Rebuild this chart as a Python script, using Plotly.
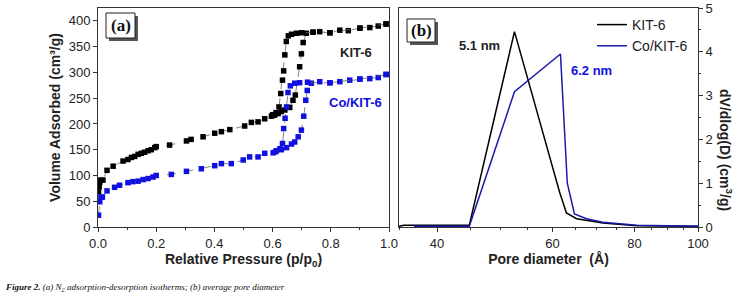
import numpy as np
import plotly.graph_objects as go

# ---------------- data: panel (a) isotherms ----------------
kit_ads_p = [0.002, 0.004, 0.006, 0.009, 0.017, 0.031, 0.052, 0.086, 0.103, 0.115, 0.126, 0.138,
             0.149, 0.160, 0.172, 0.183, 0.195, 0.200, 0.246, 0.304, 0.320, 0.361, 0.401, 0.424,
             0.453, 0.504, 0.527, 0.550, 0.573, 0.596, 0.607, 0.619, 0.630, 0.642, 0.659, 0.670,
             0.678, 0.693, 0.699, 0.705, 0.716, 0.739, 0.762, 0.797, 0.831, 0.860, 0.900, 0.934,
             0.963, 0.990]
kit_ads_v = [68, 78, 87, 91, 91, 110, 118, 128, 131, 135, 137, 141,
             143, 145, 148, 150, 154, 156, 159, 167, 170, 175, 182, 185,
             189, 196, 203, 204, 210, 215, 217, 220, 224, 227, 232, 246,
             256, 311, 336, 358, 376, 378, 379, 377, 382, 381, 386, 387,
             390, 394]
kit_des_p = [0.990, 0.900, 0.797, 0.739, 0.700, 0.682, 0.665, 0.654, 0.647, 0.642, 0.638,
             0.634, 0.628, 0.622, 0.612, 0.600]
kit_des_v = [394, 386, 377, 378, 377, 376, 374, 371, 360, 334, 303,
             285, 259, 233, 222, 218]

co_ads_p = [0.002, 0.006, 0.010, 0.015, 0.031, 0.057, 0.074, 0.103, 0.120, 0.138, 0.155, 0.172,
            0.189, 0.200, 0.252, 0.304, 0.355, 0.401, 0.424, 0.458, 0.499, 0.521, 0.550, 0.573,
            0.602, 0.613, 0.630, 0.648, 0.665, 0.676, 0.688, 0.699, 0.707, 0.714, 0.719, 0.733,
            0.762, 0.797, 0.831, 0.865, 0.900, 0.934, 0.963, 0.990]
co_ads_v = [23, 49, 58, 58, 70, 77, 81, 86, 88, 89, 92, 94,
            97, 100, 102, 108, 113, 119, 123, 123, 130, 136, 136, 143,
            144, 148, 150, 154, 161, 165, 175, 188, 215, 246, 265, 279,
            282, 280, 282, 285, 287, 288, 290, 296]
co_des_p = [0.990, 0.900, 0.797, 0.720, 0.693, 0.676, 0.661, 0.653, 0.648, 0.643, 0.638,
            0.634, 0.625, 0.610]
co_des_v = [296, 287, 280, 281, 280, 279, 274, 261, 233, 211, 191,
            162, 152, 146]

# ---------------- data: panel (b) pore size distribution ----------------
kit_d = [35.0, 35.6, 44.8, 52.5, 61.5, 63.0, 65.3, 71.6, 80.7, 100.0]
kit_dv = [0.015, 0.04, 0.04, 4.46, 0.80, 0.32, 0.19, 0.09, 0.03, 0.015]
co_d = [36.9, 44.8, 52.5, 61.7, 63.2, 64.8, 67.6, 71.6, 80.7, 100.0]
co_dv = [0.015, 0.015, 3.09, 3.95, 1.00, 0.30, 0.19, 0.11, 0.04, 0.015]

a_xticks = [0.0, 0.2, 0.4, 0.6, 0.8, 1.0]
a_yticks = [0, 50, 100, 150, 200, 250, 300, 350, 400]
b_xticks = [40, 60, 80, 100]
b_yticks = [0, 1, 2, 3, 4, 5]

W, H = 744, 300
def px(x):
    return x / W
def py(y):
    return 1 - y / H

BLUE = "#1010e0"
BLUE_LINE = "#1a1aa8"
FONT = "Liberation Sans, Arial, sans-serif"
SERIF = "Liberation Serif, Times New Roman, serif"

fig = go.Figure()

def iso(p, v, color, name):
    fig.add_trace(go.Scatter(
        x=p, y=v, mode="lines+markers", name=name, showlegend=False,
        line=dict(color="#666666", width=0.8, dash="dash"),
        marker=dict(symbol="square", size=5.5, color=color),
        xaxis="x", yaxis="y"))

iso(kit_ads_p, kit_ads_v, "black", "KIT-6 ads")
iso(kit_des_p, kit_des_v, "black", "KIT-6 des")
iso(co_ads_p, co_ads_v, BLUE, "Co/KIT-6 ads")
iso(co_des_p, co_des_v, BLUE, "Co/KIT-6 des")

fig.add_trace(go.Scatter(x=kit_d, y=kit_dv, mode="lines", name="KIT-6",
                         line=dict(color="black", width=1.5), xaxis="x2", yaxis="y2"))
fig.add_trace(go.Scatter(x=co_d, y=co_dv, mode="lines", name="Co/KIT-6",
                         line=dict(color=BLUE_LINE, width=1.5), xaxis="x2", yaxis="y2"))

ax_common = dict(showline=True, linecolor="#333333", linewidth=1, mirror=True,
                 ticks="outside", ticklen=4, tickcolor="#333333", showgrid=False,
                 zeroline=False, automargin=False,
                 tickfont=dict(family=FONT, size=13, color="#222222"))

fig.update_layout(
    width=W, height=H, margin=dict(l=0, r=0, t=0, b=0, autoexpand=False),
    paper_bgcolor="white", plot_bgcolor="white",
    font=dict(family=FONT, color="#222222"),
    xaxis=dict(domain=[px(98), px(389)], range=[0, 1.0], tickvals=a_xticks,
               ticktext=[f"{v:.1f}" for v in a_xticks], anchor="y",
               minor=dict(dtick=0.1, ticks="outside", ticklen=2, tickcolor="#333333"),
               title=dict(text="<b>Relative Pressure (p/p<sub>0</sub>)</b>",
                          font=dict(family=FONT, size=14), standoff=0),
               **ax_common),
    yaxis=dict(domain=[py(227), py(8)], range=[0, 425], tickvals=a_yticks, anchor="x",
               title=dict(text="<b>Volume Adsorbed (cm³/g)</b>",
                          font=dict(family=FONT, size=14), standoff=4),
               **ax_common),
    xaxis2=dict(domain=[px(399), px(698)], type="log", range=[np.log10(35), 2],
                tickvals=b_xticks, ticktext=[str(v) for v in b_xticks], anchor="y2",
                minor=dict(tickvals=[35, 45, 50, 55, 65, 70, 75, 85, 90, 95],
                           ticks="outside", ticklen=2, tickcolor="#333333"),
                title=dict(text="<b>Pore diameter  (Å)</b>",
                           font=dict(family=FONT, size=14), standoff=0),
                **ax_common),
    yaxis2=dict(domain=[py(227), py(8)], range=[0, 5], tickvals=b_yticks, anchor="x2",
                side="right",
                minor=dict(dtick=0.5, ticks="outside", ticklen=2, tickcolor="#333333"),
                **ax_common),
    legend=dict(x=px(592), y=py(9), xanchor="left", yanchor="top",
                bgcolor="rgba(0,0,0,0)", font=dict(family=FONT, size=14, color="#222222"),
                tracegroupgap=0, itemwidth=30),
)

# right axis title (reads top to bottom)
fig.add_annotation(xref="paper", yref="paper", x=px(726), y=py(150), showarrow=False,
                   xanchor="center", yanchor="middle",
                   text="<b>dV/dlog(D) (cm<sup>3</sup>/g)</b>", textangle=90,
                   font=dict(family=FONT, size=14, color="#222222"))

# text labels
for txt, x, y, col in [("KIT-6", 356, 52, "#222222"), ("Co/KIT-6", 355, 102, BLUE),
                       ("5.1 nm", 479, 45, "#222222"), ("6.2 nm", 591, 70, BLUE)]:
    fig.add_annotation(xref="paper", yref="paper", x=px(x), y=py(y), showarrow=False,
                       xanchor="center", yanchor="middle",
                       text=f"<b>{txt}</b>", font=dict(family=FONT, size=13, color=col))

# panel labels with shadowed boxes
for lab, x0, y0, x1, y1 in [("(a)", 106, 13, 135, 38), ("(b)", 407, 19, 435, 42)]:
    fig.add_shape(type="rect", xref="paper", yref="paper",
                  x0=px(x0 + 3), x1=px(x1 + 3), y0=py(y1 + 3), y1=py(y0 + 3),
                  fillcolor="#555555", line=dict(width=0))
    fig.add_shape(type="rect", xref="paper", yref="paper",
                  x0=px(x0), x1=px(x1), y0=py(y1), y1=py(y0),
                  fillcolor="white", line=dict(color="#222222", width=1))
    fig.add_annotation(xref="paper", yref="paper", x=px((x0 + x1) / 2), y=py((y0 + y1) / 2),
                       xanchor="center", yanchor="middle",
                       showarrow=False, text=f"<b>{lab}</b>",
                       font=dict(family=SERIF, size=17, color="#111111"))

# caption
fig.add_annotation(xref="paper", yref="paper", x=px(3), y=py(287), xanchor="left",
                   yanchor="middle", showarrow=False,
                   text="<b><i>Figure 2.</i></b><i> (a) N<sub>2</sub> adsorption-desorption isotherms; (b) average pore diameter</i>",
                   font=dict(family=SERIF, size=9, color="#111111"))

fig.write_html("out.html", config={"displayModeBar": False},
               post_script="document.body.style.margin='0px';")
